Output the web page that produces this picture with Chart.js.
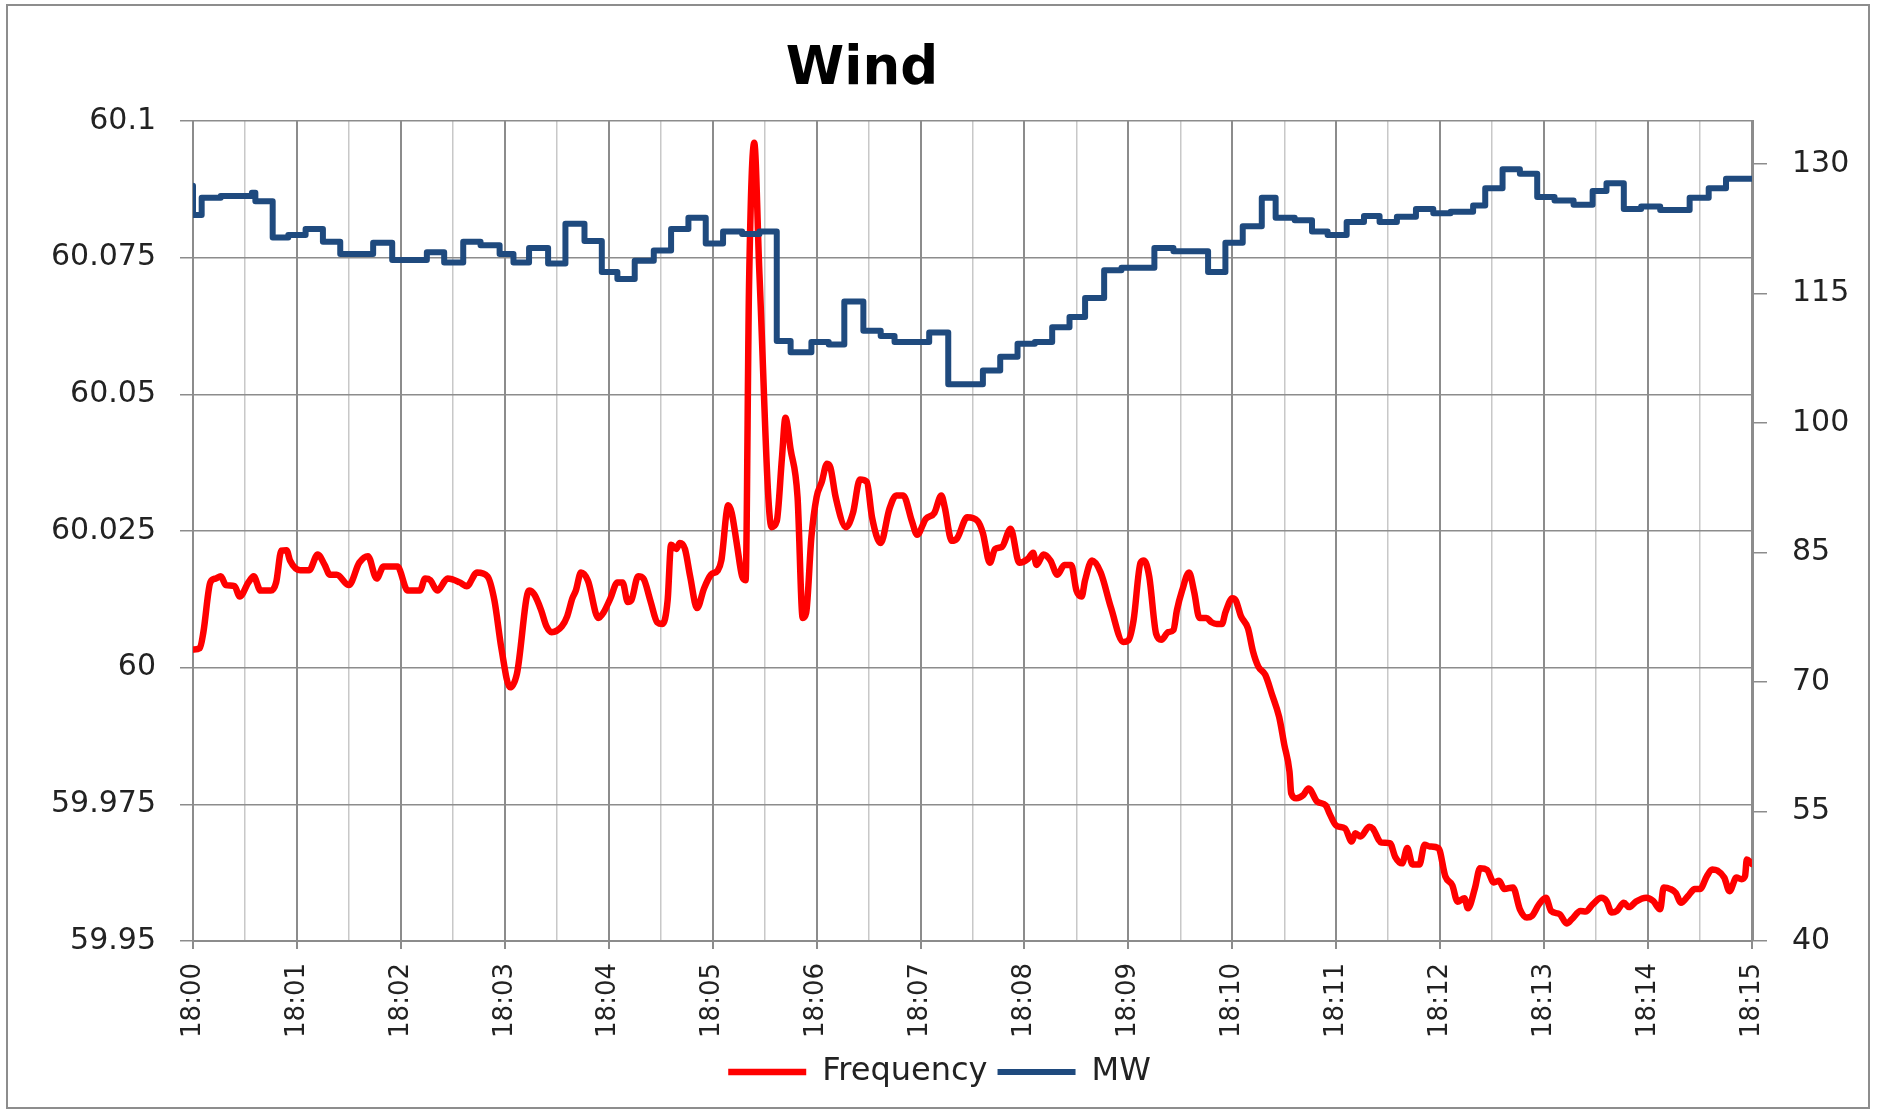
<!DOCTYPE html>
<html>
<head>
<meta charset="utf-8">
<title>Wind</title>
<script src="https://cdn.jsdelivr.net/npm/chart.js@4.4.1/dist/chart.umd.min.js"></script>
<style>
  html, body { margin: 0; padding: 0; background: #fff; }
  .chart-box { position: relative; width: 1879px; height: 1113px; }
  .chart-box canvas { position: absolute; left: 0; top: 0; }
  .chart-frame {
    position: absolute; left: 6px; top: 4px; width: 1864px; height: 1105px;
    border: 2px solid #8d8d8d; box-sizing: border-box; pointer-events: none;
  }
</style>
</head>
<body>
<div class="chart-box">
  <canvas id="windChart" width="1879" height="1113"></canvas>
  <div class="chart-frame"></div>
</div>
<script>
// axis labels
const timeLabels = ["18:00", "18:01", "18:02", "18:03", "18:04", "18:05", "18:06", "18:07",
  "18:08", "18:09", "18:10", "18:11", "18:12", "18:13", "18:14", "18:15"];
const freqTicks = [59.95, 59.975, 60, 60.025, 60.05, 60.075, 60.1];
const mwTicks = [40, 55, 70, 85, 100, 115, 130];

// frequency, seconds after 18:00 and Hz
const freqSeconds = [0, 4, 6, 10, 13, 16, 19, 24, 27, 32, 35, 39, 45, 48, 51, 54, 56, 62, 67, 72,
  76, 79, 83, 90, 96, 101, 106, 110, 118, 124, 131, 134, 137, 141, 147, 154, 158, 164, 170, 174,
  178, 183, 187, 194, 197, 201, 204, 207, 213, 216, 219, 221, 224, 228, 234, 237, 241, 245, 248, 251,
  253, 257, 260, 264, 268, 271, 274, 276, 279, 281, 284, 287, 291, 295, 299, 303, 305, 309, 311, 314,
  317, 319, 321, 324, 327, 334, 337, 340, 342, 345, 349, 352, 354, 357, 360, 363, 366, 368, 371, 377,
  381, 385, 389, 392, 397, 402, 406, 410, 415, 418, 423, 428, 432, 434, 438, 441, 447, 453, 456, 460,
  463, 467, 472, 477, 482, 485, 487, 491, 495, 499, 503, 507, 510, 513, 515, 519, 524, 530, 537, 540,
  543, 547, 549, 552, 556, 559, 563, 566, 568, 571, 575, 578, 581, 585, 588, 591, 594, 596, 600, 602,
  605, 609, 612, 615, 619, 623, 627, 630, 633, 634, 637, 641, 644, 649, 654, 656, 660, 665, 669, 671,
  674, 679, 681, 686, 691, 694, 698, 701, 704, 708, 711, 714, 719, 723, 727, 730, 734, 736, 740, 743,
  747, 751, 754, 757, 762, 766, 770, 773, 777, 781, 784, 789, 793, 796, 801, 804, 808, 813, 816, 819,
  822, 826, 829, 833, 839, 843, 847, 849, 853, 856, 859, 863, 867, 870, 874, 877, 880, 884, 887, 891,
  894, 896, 897, 900];
const freqValues = [60.0033, 60.0036, 60.0065, 60.0156, 60.0163, 60.0167, 60.0151, 60.0149, 60.013, 60.0156,
  60.0167, 60.0141, 60.0141, 60.0156, 60.0214, 60.0215, 60.0196, 60.0178, 60.0178, 60.0207,
  60.0188, 60.017, 60.017, 60.0151, 60.0192, 60.0204, 60.0163, 60.0185, 60.0185, 60.0141,
  60.0141, 60.0163, 60.016, 60.0141, 60.0163, 60.0156, 60.0149, 60.0174, 60.0167, 60.0123,
  60.0036, 59.9964, 59.9989, 60.0141, 60.0134, 60.0105, 60.0076, 60.0065, 60.0076, 60.0094,
  60.0127, 60.0141, 60.0174, 60.0159, 60.0091, 60.0101, 60.0127, 60.0156, 60.0156, 60.012,
  60.0123, 60.0167, 60.0163, 60.0123, 60.0083, 60.008, 60.0123, 60.0225, 60.0217, 60.0228,
  60.0217, 60.0167, 60.0109, 60.0145, 60.017, 60.0178, 60.0196, 60.0297, 60.0283, 60.0225,
  60.0167, 60.016, 60.07, 60.096, 60.072, 60.0257, 60.0268, 60.0384, 60.0457, 60.0399,
  60.0312, 60.0091, 60.0101, 60.0239, 60.0312, 60.034, 60.0373, 60.0366, 60.0312, 60.0257,
  60.0283, 60.0344, 60.034, 60.0275, 60.0228, 60.029, 60.0315, 60.0315, 60.0268, 60.0243,
  60.0272, 60.0283, 60.0315, 60.0293, 60.0232, 60.0236, 60.0275, 60.0268, 60.0246, 60.0192,
  60.0217, 60.0221, 60.0254, 60.0192, 60.0199, 60.021, 60.0188, 60.0207, 60.0196, 60.017,
  60.0188, 60.0188, 60.0141, 60.013, 60.016, 60.0196, 60.0174, 60.0109, 60.0047, 60.005,
  60.0087, 60.0192, 60.0196, 60.0167, 60.0062, 60.0051, 60.0065, 60.0069, 60.0105, 60.0141,
  60.0174, 60.0138, 60.0091, 60.0091, 60.0083, 60.008, 60.008, 60.0101, 60.0127, 60.0123,
  60.0094, 60.0072, 60.0029, 60.0002, 59.9987, 59.995, 59.991, 59.9859, 59.981, 59.977,
  59.9761, 59.9767, 59.9779, 59.9755, 59.9748, 59.9734, 59.9711, 59.9706, 59.9682, 59.9697,
  59.9691, 59.9709, 59.9706, 59.968, 59.9679, 59.9654, 59.9642, 59.967, 59.964, 59.964,
  59.9676, 59.9673, 59.967, 59.9618, 59.9602, 59.9572, 59.9578, 59.956, 59.9596, 59.9633,
  59.963, 59.9607, 59.961, 59.9595, 59.9598, 59.9558, 59.9543, 59.9546, 59.9567, 59.9579,
  59.9555, 59.9549, 59.9532, 59.954, 59.9555, 59.9554, 59.9567, 59.9579, 59.9573, 59.9552,
  59.9555, 59.957, 59.9562, 59.9572, 59.9579, 59.9573, 59.9558, 59.9598, 59.9595, 59.9588,
  59.957, 59.9582, 59.9595, 59.9595, 59.9619, 59.9631, 59.9629, 59.9616, 59.9591, 59.9616,
  59.9613, 59.9619, 59.9649, 59.9641];

// wind output, each level holds until the next time
const mwSeconds = [0, 5, 16, 34, 36, 46, 55, 65, 75, 85, 104, 115, 135, 145, 156, 166, 177, 185, 194, 205,
  215, 226, 236, 245, 255, 266, 276, 286, 296, 306, 317, 327, 337, 345, 357, 367, 376, 387, 397, 405,
  425, 436, 456, 466, 476, 486, 496, 506, 515, 526, 536, 555, 566, 586, 596, 606, 617, 625, 636, 646,
  655, 666, 676, 685, 695, 706, 716, 726, 739, 746, 756, 766, 776, 786, 797, 808, 816, 826, 836, 847,
  864, 875, 885, 896, 900];
const mwValues = [127.5, 124.1, 126.1, 126.3, 126.7, 125.7, 121.5, 121.8, 122.5, 121.0, 119.6, 120.9, 118.9, 119.8, 118.6, 121.0, 120.6, 119.6, 118.6, 120.3,
  118.5, 123.1, 121.1, 117.5, 116.7, 118.8, 120.0, 122.5, 123.8, 120.8, 122.2, 121.9, 122.2, 109.5, 108.2, 109.4, 109.1, 114.1, 110.7, 110.1,
  109.4, 110.5, 104.5, 106.1, 107.7, 109.2, 109.4, 111.1, 112.3, 114.5, 117.7, 118.0, 120.3, 119.9, 117.5, 120.9, 122.8, 126.1, 123.8, 123.5,
  122.2, 121.8, 123.3, 124.0, 123.3, 123.9, 124.8, 124.3, 124.5, 125.2, 127.2, 129.4, 128.9, 126.2, 125.8, 125.3, 126.9, 127.8, 124.8, 125.1,
  124.7, 126.1, 127.2, 128.3, 128.3];

const fontFamily = '"DejaVu Sans", "Liberation Sans", sans-serif';
const gridGray = "#8c8c8c";
const minorGray = "#c8c8c8";

function toPoints(xs, ys) {
  return xs.map((x, i) => ({ x: x, y: ys[i] }));
}

// one tick every 30 s, labelled on the minute
const halfMinutes = [];
timeLabels.forEach((label, i) => {
  halfMinutes.push(i * 60);
  if (i < timeLabels.length - 1) halfMinutes.push(i * 60 + 30);
});

const isMinute = (ctx) => ctx.tick && ctx.tick.value % 60 === 0;

// excel puts the title a bit left of centre
const titlePlugin = {
  id: "windTitle",
  afterDraw(chart) {
    const ctx = chart.ctx;
    ctx.save();
    ctx.font = "bold 53px " + fontFamily;
    ctx.fillStyle = "#000";
    ctx.textAlign = "center";
    ctx.textBaseline = "middle";
    ctx.fillText("Wind", 862, 70);
    ctx.restore();
  },
};

new Chart(document.getElementById("windChart"), {
  type: "line",
  data: {
    datasets: [
      {
        label: "Frequency",
        data: toPoints(freqSeconds, freqValues),
        yAxisID: "y",
        borderColor: "#ff0000",
        backgroundColor: "#ff0000",
        borderWidth: 6.5,
        pointRadius: 0,
        cubicInterpolationMode: "monotone",
        borderCapStyle: "round",
        borderJoinStyle: "round",
        order: 1,
      },
      {
        label: "MW",
        data: toPoints(mwSeconds, mwValues),
        yAxisID: "y2",
        borderColor: "#1f4a7e",
        backgroundColor: "#1f4a7e",
        borderWidth: 6,
        pointRadius: 0,
        stepped: "after",
        borderCapStyle: "round",
        borderJoinStyle: "round",
        order: 0,
      },
    ],
  },
  options: {
    responsive: false,
    animation: false,
    devicePixelRatio: 1,
    layout: { padding: { top: 121, right: 0, bottom: 15, left: 0 } },
    plugins: {
      title: { display: false },
      tooltip: { enabled: false },
      legend: {
        position: "bottom",
        labels: {
          usePointStyle: true,
          pointStyle: "line",
          pointStyleWidth: 78,
          boxHeight: 7,
          padding: 10,
          color: "#222",
          font: { family: fontFamily, size: 32 },
          sort: (a, b) => a.datasetIndex - b.datasetIndex,
        },
      },
    },
    scales: {
      x: {
        type: "linear",
        min: 0,
        max: 900,
        afterBuildTicks: (axis) => {
          axis.ticks = halfMinutes.map((v) => ({ value: v }));
        },
        afterFit: (axis) => {
          axis.height = 105;
        },
        ticks: {
          autoSkip: false,
          minRotation: 90,
          maxRotation: 90,
          padding: 14,
          color: "#222",
          font: { family: fontFamily, size: 26 },
          callback: (value) => (value % 60 === 0 ? timeLabels[value / 60] : ""),
        },
        grid: {
          color: (ctx) => (isMinute(ctx) ? gridGray : minorGray),
          lineWidth: (ctx) => (isMinute(ctx) ? 2 : 1.5),
          tickColor: (ctx) => (isMinute(ctx) ? gridGray : "rgba(0,0,0,0)"),
          tickLength: 8,
        },
        border: { color: gridGray, width: 2 },
      },
      y: {
        position: "left",
        min: 59.95,
        max: 60.1,
        afterBuildTicks: (axis) => {
          axis.ticks = freqTicks.map((v) => ({ value: v }));
        },
        afterFit: (axis) => {
          axis.width = 193;
        },
        ticks: {
          padding: 24,
          color: "#222",
          font: { family: fontFamily, size: 30 },
          callback: (value) => String(value),
        },
        grid: { color: gridGray, lineWidth: 1.5, tickLength: 13 },
        border: { color: gridGray, width: 2 },
      },
      y2: {
        position: "right",
        min: 40,
        max: 135,
        afterBuildTicks: (axis) => {
          axis.ticks = mwTicks.map((v) => ({ value: v }));
        },
        afterFit: (axis) => {
          axis.width = 127;
        },
        ticks: {
          padding: 25,
          color: "#222",
          font: { family: fontFamily, size: 30 },
          callback: (value) => String(value),
        },
        grid: { drawOnChartArea: false, color: gridGray, lineWidth: 1.5, tickLength: 15 },
        border: { color: gridGray, width: 3 },
      },
    },
  },
  plugins: [titlePlugin],
});
</script>
</body>
</html>
